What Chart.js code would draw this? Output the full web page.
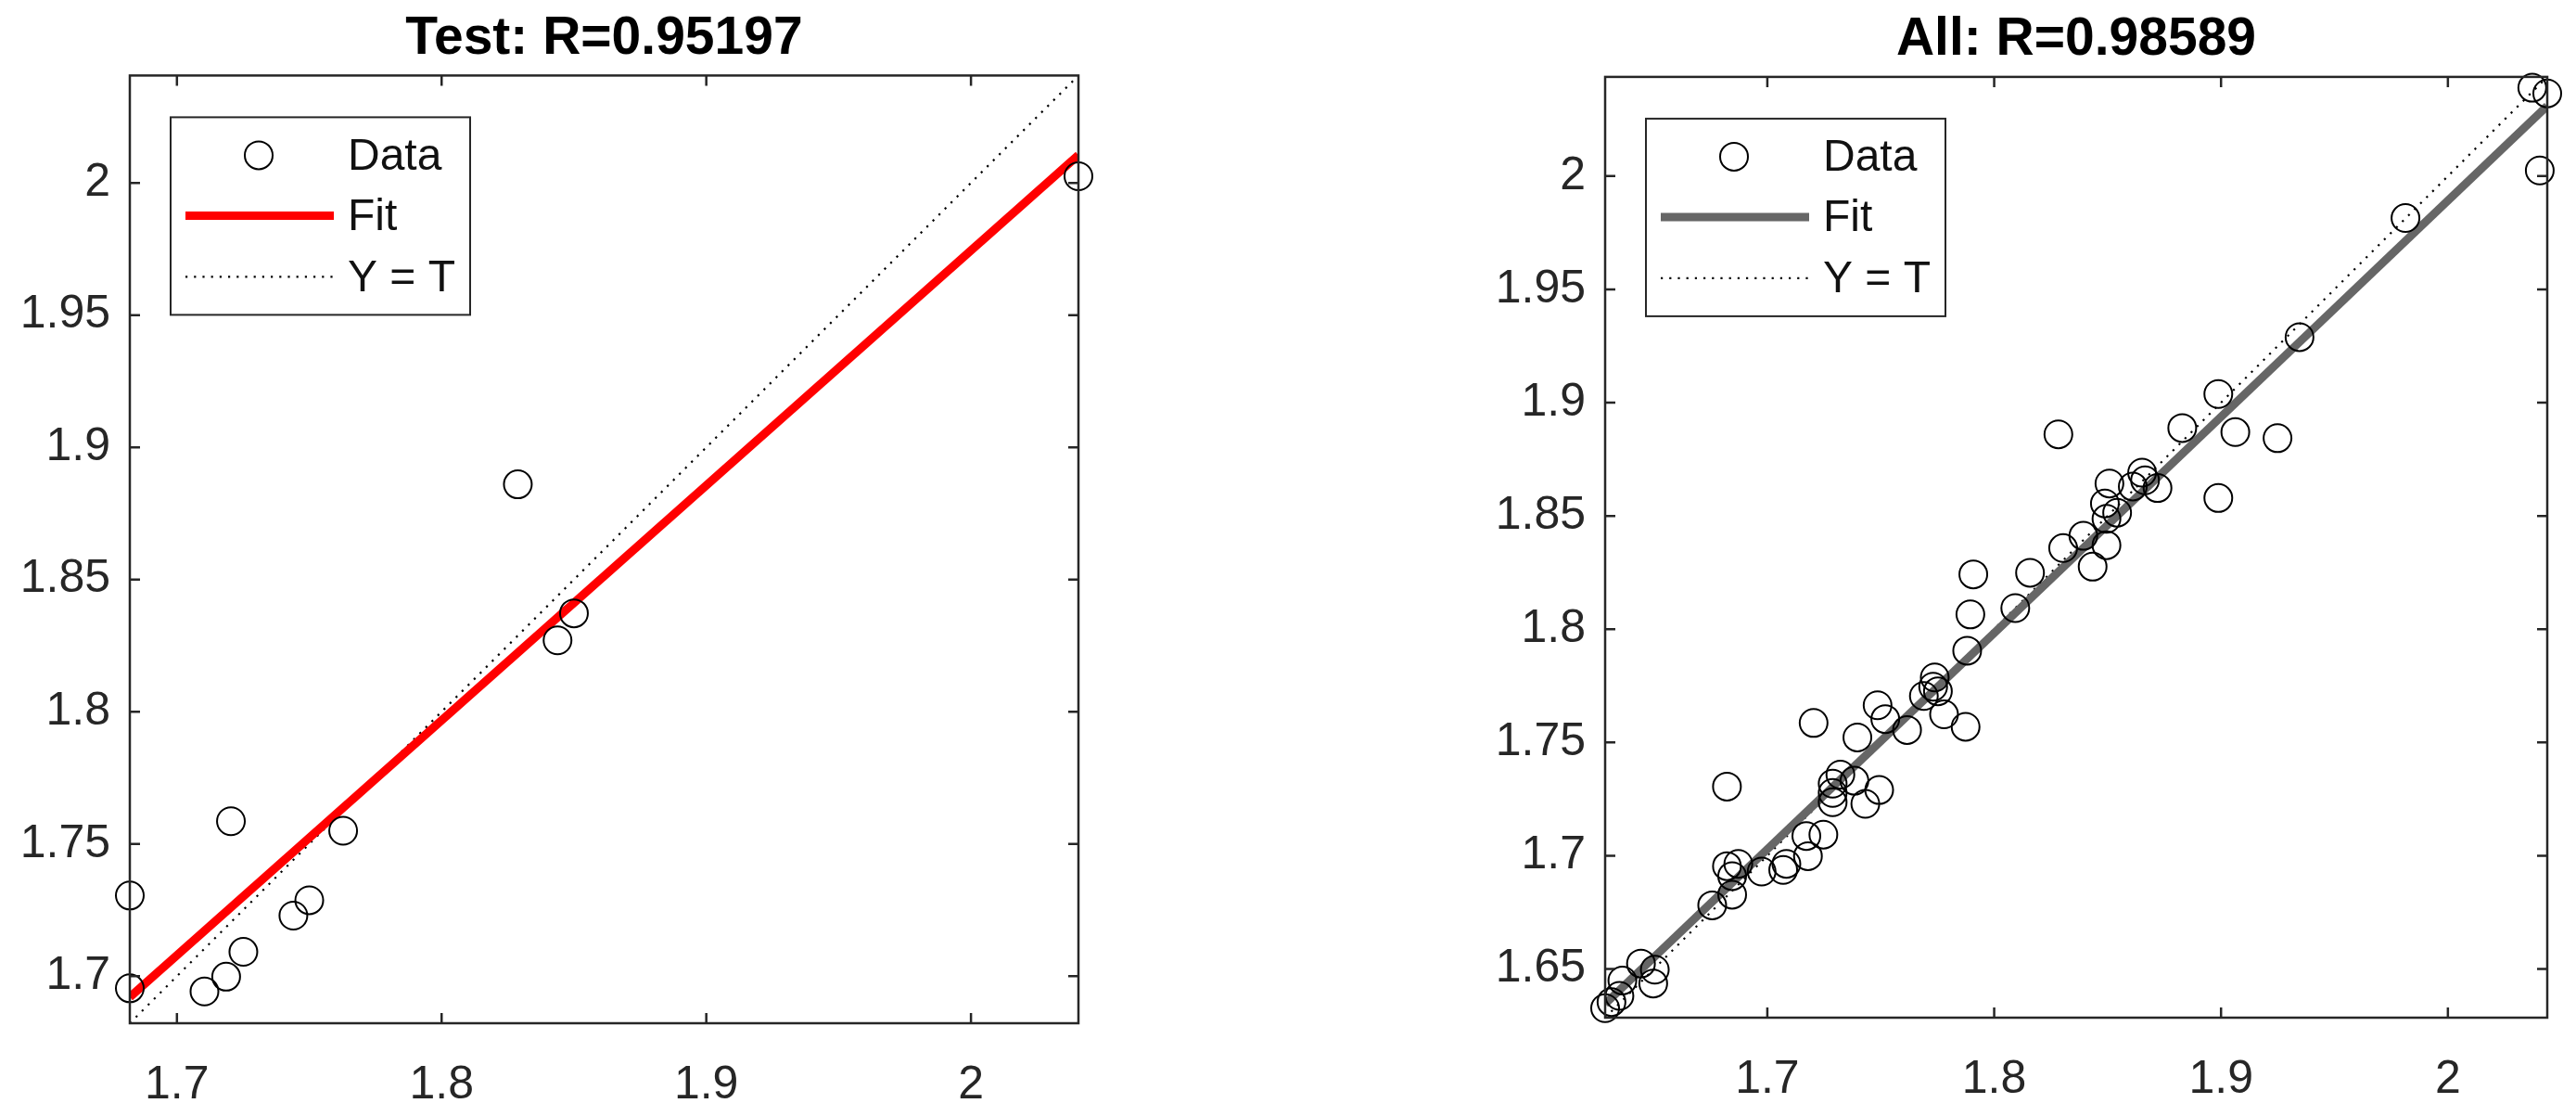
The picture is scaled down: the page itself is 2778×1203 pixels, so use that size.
<!DOCTYPE html>
<html>
<head>
<meta charset="utf-8">
<script src="https://cdn.jsdelivr.net/npm/chart.js@4.4.0/dist/chart.umd.min.js"></script>
<style>
body{margin:0;background:#fff;width:2778px;height:1203px;overflow:hidden;position:relative}
canvas{position:absolute;top:0}
#testChart{left:0}
#allChart{left:1500px}
</style>
</head>
<body>
<canvas id="testChart" width="1302" height="1203"></canvas>
<canvas id="allChart" width="1278" height="1203"></canvas>
<script>
// test set: targets (x) and outputs (y)
const testTargets = [1.6822, 1.6822, 1.7204, 1.7104, 1.7186, 1.7251, 1.7440, 1.7500, 1.7628, 1.8438, 1.8500, 1.8288, 2.0406];
const testOutputs = [1.7305, 1.6954, 1.7586, 1.6942, 1.6998, 1.7092, 1.7229, 1.7287, 1.7550, 1.8270, 1.8372, 1.8860, 2.0025];
const testLim = [1.6822, 2.0406];
const testFitY = [1.6921, 2.0105];

// all data
const allTargets = [2.0372, 2.0438, 2.0405, 1.9813, 1.9346, 1.8988, 1.8829, 1.9063, 1.9249, 1.8283,
                    1.8988, 1.8508, 1.8652, 1.8665, 1.8720, 1.8611, 1.8488, 1.8542, 1.8495, 1.8393,
                    1.8495, 1.8304, 1.8434, 1.8158, 1.7908, 1.7895, 1.8093, 1.7881, 1.7738, 1.7731,
                    1.7752, 1.7690, 1.7779, 1.7874, 1.7486, 1.7520, 1.7616, 1.7397, 1.7204, 1.6822,
                    1.7322, 1.7288, 1.7288, 1.7288, 1.7384, 1.7493, 1.7432, 1.7172, 1.7247, 1.7179,
                    1.7084, 1.7070, 1.6975, 1.6822, 1.6872, 1.6845, 1.6845, 1.6757, 1.6443, 1.6504,
                    1.6497, 1.6361, 1.6348, 1.6313, 1.6285];
const allOutputs = [2.0390, 2.0365, 2.0025, 1.9815, 1.9289, 1.9038, 1.8888, 1.8870, 1.8843, 1.8860,
                    1.8579, 1.8643, 1.8691, 1.8657, 1.8623, 1.8630, 1.8555, 1.8514, 1.8487, 1.8412,
                    1.8371, 1.8358, 1.8276, 1.8249, 1.8242, 1.8065, 1.8093, 1.7905, 1.7787, 1.7746,
                    1.7726, 1.7705, 1.7624, 1.7569, 1.7664, 1.7603, 1.7555, 1.7522, 1.7586, 1.7305,
                    1.7358, 1.7318, 1.7277, 1.7236, 1.7331, 1.7290, 1.7229, 1.7087, 1.7093, 1.6998,
                    1.6964, 1.6937, 1.6930, 1.6954, 1.6964, 1.6910, 1.6828, 1.6781, 1.6524, 1.6497,
                    1.6436, 1.6449, 1.6381, 1.6354, 1.6327];
const allLim = [1.6285, 2.0438];
const allFitY = [1.6346, 2.0310];

const xTicks = [1.7, 1.8, 1.9, 2];
const testYTicks = [1.7, 1.75, 1.8, 1.85, 1.9, 1.95, 2];
const allYTicks = [1.65, 1.7, 1.75, 1.8, 1.85, 1.9, 1.95, 2];

const fam = "'Liberation Sans', Arial, Helvetica, sans-serif";
const axisGrey = '#262626';

// axes box with inward ticks on all sides, plus the legend box inside the axes
const boxPlugin = {
    id: 'matlabBox',
    afterDatasetsDraw(chart) {
        const ctx = chart.ctx;
        const a = chart.chartArea;
        const sx = chart.scales.x, sy = chart.scales.y;
        ctx.save();
        ctx.strokeStyle = axisGrey;
        ctx.lineWidth = 2.5;
        ctx.strokeRect(a.left, a.top, a.right - a.left, a.bottom - a.top);
        const tl = 11;
        ctx.beginPath();
        sx.ticks.forEach(t => {
            const px = sx.getPixelForValue(t.value);
            ctx.moveTo(px, a.bottom); ctx.lineTo(px, a.bottom - tl);
            ctx.moveTo(px, a.top); ctx.lineTo(px, a.top + tl);
        });
        sy.ticks.forEach(t => {
            const py = sy.getPixelForValue(t.value);
            ctx.moveTo(a.left, py); ctx.lineTo(a.left + tl, py);
            ctx.moveTo(a.right, py); ctx.lineTo(a.right - tl, py);
        });
        ctx.stroke();

        // legend
        const lx = a.left + 44, ly = a.top + 45, lw = 323, lh = 213;
        ctx.fillStyle = '#fff';
        ctx.fillRect(lx, ly, lw, lh);
        ctx.lineWidth = 2;
        ctx.strokeStyle = axisGrey;
        ctx.strokeRect(lx, ly, lw, lh);
        const rows = [41, 106, 172];
        chart.data.datasets.forEach((ds, i) => {
            const cy = ly + rows[i];
            ctx.save();
            if (ds.showLine) {
                ctx.strokeStyle = ds.borderColor;
                ctx.lineWidth = ds.borderWidth;
                ctx.setLineDash(ds.borderDash || []);
                ctx.beginPath();
                ctx.moveTo(lx + 16, cy);
                ctx.lineTo(lx + 176, cy);
                ctx.stroke();
            } else {
                ctx.strokeStyle = ds.pointBorderColor;
                ctx.lineWidth = ds.pointBorderWidth;
                ctx.beginPath();
                ctx.arc(lx + 95, cy, ds.pointRadius, 0, Math.PI * 2);
                ctx.stroke();
            }
            ctx.restore();
            ctx.fillStyle = '#111';
            ctx.font = '48px ' + fam;
            ctx.textBaseline = 'middle';
            ctx.textAlign = 'left';
            ctx.fillText(ds.label, lx + 191, cy + 2);
        });
        ctx.restore();
    }
};

function regressionChart(id, title, targets, outputs, lim, fitY, fitColor, yTicks, yw, xh, pad) {
    const pts = targets.map((t, i) => ({x: t, y: outputs[i]}));
    return new Chart(document.getElementById(id).getContext('2d'), {
        type: 'scatter',
        data: {
            datasets: [{
                label: 'Data',
                data: pts,
                showLine: false,
                pointRadius: 15,
                pointBorderWidth: 2,
                pointBorderColor: '#000',
                pointBackgroundColor: 'rgba(0,0,0,0)',
                clip: false,
                order: 0
            }, {
                label: 'Fit',
                data: [{x: lim[0], y: fitY[0]}, {x: lim[1], y: fitY[1]}],
                showLine: true,
                borderColor: fitColor,
                borderWidth: 9,
                pointRadius: 0,
                order: 1
            }, {
                label: 'Y = T',
                data: [{x: lim[0], y: lim[0]}, {x: lim[1], y: lim[1]}],
                showLine: true,
                borderColor: '#000',
                borderWidth: 2.2,
                borderDash: [2.2, 7],
                pointRadius: 0,
                order: 2
            }]
        },
        options: {
            responsive: false,
            animation: false,
            events: [],
            layout: {padding: pad},
            scales: {
                x: {
                    type: 'linear', min: lim[0], max: lim[1],
                    afterBuildTicks: s => { s.ticks = xTicks.map(v => ({value: v})); },
                    afterFit: s => { s.height = xh; },
                    grid: {display: false, drawTicks: false},
                    border: {display: false},
                    ticks: {padding: 37, color: axisGrey, maxRotation: 0, autoSkip: false,
                            font: {family: fam, size: 50}, callback: v => String(v)}
                },
                y: {
                    type: 'linear', min: lim[0], max: lim[1],
                    afterBuildTicks: s => { s.ticks = yTicks.map(v => ({value: v})); },
                    afterFit: s => { s.width = yw; },
                    grid: {display: false, drawTicks: false},
                    border: {display: false},
                    ticks: {padding: 21, color: axisGrey, autoSkip: false,
                            font: {family: fam, size: 50}, callback: v => String(v)}
                }
            },
            plugins: {
                title: {
                    display: true,
                    text: title,
                    fullSize: false,
                    color: '#000',
                    font: {family: fam, size: 57, weight: 'bold', lineHeight: 1.2},
                    padding: {top: 8, bottom: 5}
                },
                legend: {display: false},
                tooltip: {enabled: false}
            }
        },
        plugins: [boxPlugin]
    });
}

regressionChart('testChart', 'Test: R=0.95197', testTargets, testOutputs, testLim, testFitY,
    '#ff0000', testYTicks, 140, 100, {left: 0, right: 139, top: 0, bottom: 0});
regressionChart('allChart', 'All: R=0.98589', allTargets, allOutputs, allLim, allFitY,
    '#666666', allYTicks, 231, 106, {left: 0, right: 31, top: 1.5, bottom: 0});
</script>
</body>
</html>
